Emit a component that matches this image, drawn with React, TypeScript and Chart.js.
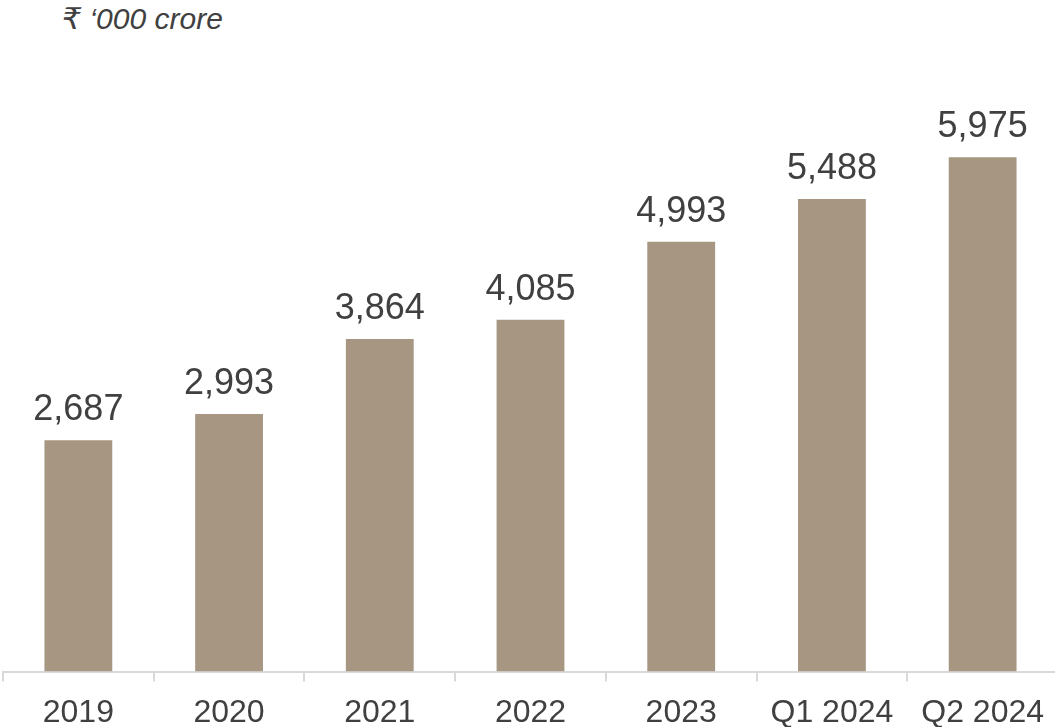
import React, { useEffect, useRef } from "react";
import { Chart, registerables } from "chart.js";

Chart.register(...registerables);

const categories = ["2019", "2020", "2021", "2022", "2023", "Q1 2024", "Q2 2024"];
const values = [2687, 2993, 3864, 4085, 4993, 5488, 5975];
const unitLabel = "₹ ‘000 crore";

const BAR = "#A69682";
const TEXT = "#404040";

const valueLabels = {
  id: "valueLabels",
  afterDatasetsDraw(chart: any) {
    const ctx = chart.ctx;
    const meta = chart.getDatasetMeta(0);
    ctx.save();
    ctx.fillStyle = TEXT;
    ctx.font = "36px 'Liberation Sans', Arial, sans-serif";
    ctx.textAlign = "center";
    ctx.textBaseline = "alphabetic";
    meta.data.forEach((bar: any, i: number) => {
      const v = chart.data.datasets[0].data[i] as number;
      ctx.fillText(v.toLocaleString("en-US"), bar.x, bar.y - 20);
    });
    ctx.restore();
  },
};

export default function App() {
  const ref = useRef<HTMLCanvasElement>(null);
  useEffect(() => {
    if (!ref.current) return;
    const chart = new Chart(ref.current, {
      type: "bar",
      data: {
        labels: categories,
        datasets: [
          {
            data: values,
            backgroundColor: BAR,
            borderWidth: 0,
            barPercentage: 0.45,
            categoryPercentage: 1,
          },
        ],
      },
      options: {
        animation: false,
        responsive: false,
        maintainAspectRatio: false,
        layout: { padding: { left: 3, right: 0, top: 0, bottom: 0 } },
        plugins: {
          legend: { display: false },
          tooltip: { enabled: false },
          title: { display: false },
        },
        scales: {
          x: {
            grid: {
              display: true,
              drawOnChartArea: false,
              drawTicks: true,
              tickLength: 10,
              color: "#D9D9D9",
              lineWidth: 2,
              offset: true,
            },
            border: { display: true, color: "#D9D9D9", width: 2 },
            ticks: {
              color: TEXT,
              padding: 12,
              font: { family: "'Liberation Sans', Arial, sans-serif", size: 32 },
              maxRotation: 0,
              autoSkip: false,
            },
          },
          y: {
            display: false,
            min: 0,
            max: 7800,
          },
        },
      },
      plugins: [valueLabels],
    });
    return () => chart.destroy();
  }, []);

  return (
    <div
      style={{
        position: "fixed",
        left: 0,
        top: 0,
        width: 1055,
        height: 727,
        overflow: "hidden",
        background: "#fff",
      }}
    >
      <div
        style={{
          position: "absolute",
          left: 62,
          top: 1,
          fontFamily: "'Liberation Sans', Arial, 'DejaVu Sans', sans-serif",
          fontStyle: "italic",
          fontSize: 30,
          color: TEXT,
          whiteSpace: "nowrap",
        }}
      >
        {unitLabel}
      </div>
      <canvas
        ref={ref}
        width={1058}
        height={744}
        style={{ position: "absolute", left: 0, top: 0, width: 1058, height: 744 }}
      />
    </div>
  );
}
